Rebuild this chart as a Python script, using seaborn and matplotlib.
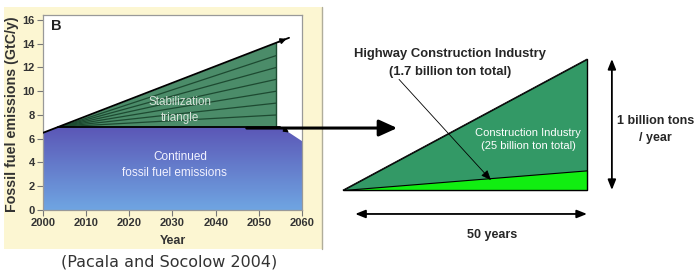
import numpy as np
import seaborn as sns
import matplotlib.pyplot as plt
from matplotlib.colors import LinearSegmentedColormap
from matplotlib.patches import Rectangle

# Left panel data (Pacala & Socolow stabilization wedges)
line_years = [2000, 2057]
line_vals = [6.5, 14.5]
tri_years = [2003.5, 2054]
tri_top = [7.0, 14.1]
wedge_start = 2004
wedge_ends = [8, 9, 10, 11, 12, 13]
blue_years = [2000, 2003.5, 2055, 2060]
blue_vals = [6.5, 7.0, 7.0, 5.8]
decline_years = [2055, 2057.5]
decline_vals = [7.0, 6.4]

# Right panel data (construction industry triangle)
span_years = [0, 50]
construction_rate = [0, 1.0]
highway_rate = [0, 0.15]

sns.set_style("white")
plt.rcParams['font.family'] = ['Liberation Sans', 'DejaVu Sans']

fig = plt.figure(figsize=(6.95, 2.79), dpi=100)

# cream background of the reprinted figure
fig.patches.append(Rectangle((4 / 695, 30 / 279), 318 / 695, 242 / 279,
                             transform=fig.transFigure, facecolor='#fcf6d2',
                             edgecolor='none', zorder=-5))
fig.lines.append(plt.Line2D([322 / 695, 322 / 695], [30 / 279, 272 / 279],
                            transform=fig.transFigure, color='#b0ad9a', lw=1,
                            zorder=-4))

ax = fig.add_axes([43 / 695, 69 / 279, 259 / 695, 195 / 279])
ax.set_facecolor('white')

# blue area with vertical gradient
poly = ax.fill_between(blue_years, 0, blue_vals, color='none', lw=0)
cmap = LinearSegmentedColormap.from_list('b', ['#6fa5e2', '#5b56b6'])
grad = np.linspace(0, 1, 200).reshape(-1, 1)
im = ax.imshow(grad, extent=[2000, 2060, 0, 7.0], origin='lower', cmap=cmap,
               aspect='auto', zorder=1)
im.set_clip_path(poly.get_paths()[0], transform=ax.transData)

# stabilization triangle
ax.fill_between(tri_years, 7.0, tri_top, color='#4b8c69', lw=0, zorder=2)
for v in wedge_ends:
    sns.lineplot(x=[wedge_start, tri_years[1]], y=[7.0, v], ax=ax,
                 color='#1d4a31', lw=0.9, zorder=3)
ax.plot([tri_years[1], tri_years[1]], [7.0, tri_top[1]], color='#1d4a31', lw=1, zorder=3)

sns.lineplot(x=line_years, y=line_vals, ax=ax, color='black', lw=1.3, zorder=4)
ax.annotate('', xy=(line_years[1], line_vals[1]), xytext=(2054, 14.08),
            arrowprops=dict(arrowstyle='-|>', color='black', lw=1.2,
                            mutation_scale=8), zorder=5)
ax.plot([2003.5, 2055], [7.0, 7.0], color='black', lw=1.3, zorder=4)
ax.annotate('', xy=(decline_years[1], decline_vals[1]),
            xytext=(decline_years[0], decline_vals[0]),
            arrowprops=dict(arrowstyle='-|>', color='black', lw=1,
                            mutation_scale=7), zorder=5)

ax.text(2031.7, 9.1, 'Stabilization', color='#d5e2d8', fontsize=8.4,
        ha='center', va='center', zorder=6)
ax.text(2031.7, 7.75, 'triangle', color='#d5e2d8', fontsize=8.4,
        ha='center', va='center', zorder=6)
ax.text(2031.7, 4.5, 'Continued', color='#f2f2ff', fontsize=8.5,
        ha='center', va='center', zorder=6)
ax.text(2030.5, 3.1, 'fossil fuel emissions', color='#f2f2ff', fontsize=8.5,
        ha='center', va='center', zorder=6)
ax.text(2001.8, 15.5, 'B', fontsize=10.5, fontweight='bold', ha='left',
        va='center', color='#222222', zorder=6)

ax.set_xlim(2000, 2060)
ax.set_ylim(0, 16.42)
ax.set_xticks(range(2000, 2061, 10))
ax.set_yticks(range(0, 17, 2))
ax.tick_params(axis='both', labelsize=8, length=4, width=0.8,
               color='#777777', labelcolor='#333333', pad=2, direction='out')
ax.tick_params(left=True, bottom=True)
for lab in ax.get_xticklabels() + ax.get_yticklabels():
    lab.set_fontweight('bold')
for s in ax.spines.values():
    s.set_color('#999999')
    s.set_linewidth(0.9)
ax.set_xlabel('Year', fontsize=9, fontweight='bold', color='#333333')
ax.set_ylabel('Fossil fuel emissions (GtC/y)', fontsize=10.3,
              fontweight='bold', color='#333333')
ax.xaxis.set_label_coords(0.5, -0.13)
ax.yaxis.set_label_coords(-0.092, 0.49)

fig.text(169 / 695, 1 - 262 / 279, '(Pacala and Socolow 2004)', fontsize=11.5,
         family='DejaVu Sans', color='#333333', ha='center', va='center')

# right panel
ar = fig.add_axes([343 / 695, 89 / 279, 244 / 695, 131 / 279])
ar.axis('off')
ar.set_xlim(0, 50)
ar.set_ylim(0, 1)
ar.fill_between(span_years, 0, construction_rate, color='#339966',
                edgecolor='black', lw=0.8, clip_on=False)
ar.fill_between(span_years, 0, highway_rate, color='#11ee11',
                edgecolor='black', lw=0.8, clip_on=False)
ar.plot([0, 50, 50], [0, 0, 1], color='black', lw=0.9, clip_on=False)
ar.plot([0, 50], [0, 1], color='black', lw=0.6, clip_on=False)

ar.text(37.9, 0.435, 'Construction Industry', color='white', fontsize=8,
        ha='center', va='center')
ar.text(37.9, 0.336, '(25 billion ton total)', color='white', fontsize=8,
        ha='center', va='center')
ar.text(21.9, 1.04, 'Highway Construction Industry', fontsize=9.4,
        fontweight='bold', ha='center', va='center')
ar.text(21.9, 0.90, '(1.7 billion ton total)', fontsize=9.4,
        fontweight='bold', ha='center', va='center')
ar.annotate('', xy=(30.7, 0.06), xytext=(11.1, 0.86),
            arrowprops=dict(arrowstyle='-|>,head_length=0.6,head_width=0.25',
                            color='black', lw=0.6, mutation_scale=10),
            annotation_clip=False)

ar.annotate('', xy=(50, -0.183), xytext=(2.5, -0.183),
            arrowprops=dict(arrowstyle='<|-|>,head_length=0.5,head_width=0.2',
                            color='black', lw=1.3, mutation_scale=12,
                            shrinkA=0, shrinkB=0),
            annotation_clip=False)
ar.text(30.5, -0.34, '50 years', fontsize=9, fontweight='bold',
        ha='center', va='center')
ar.annotate('', xy=(55.1, 1.0), xytext=(55.1, 0.0),
            arrowprops=dict(arrowstyle='<|-|>,head_length=0.5,head_width=0.2',
                            color='black', lw=1.3, mutation_scale=12,
                            shrinkA=0, shrinkB=0),
            annotation_clip=False)
ar.text(64.1, 0.53, '1 billion tons', fontsize=9, fontweight='bold',
        ha='center', va='center')
ar.text(64.1, 0.40, '/ year', fontsize=9, fontweight='bold',
        ha='center', va='center')

# big connecting arrow from the left chart to the triangle
ar.annotate('', xy=(11.1, 0.473), xycoords=ar.transData,
            xytext=(2047.2, 6.9), textcoords=ax.transData,
            arrowprops=dict(arrowstyle='-|>,head_length=0.55,head_width=0.25',
                            color='black', lw=2.2, mutation_scale=20,
                            shrinkA=0, shrinkB=0),
            annotation_clip=False, zorder=10)

fig.savefig('out.png', dpi=100)
